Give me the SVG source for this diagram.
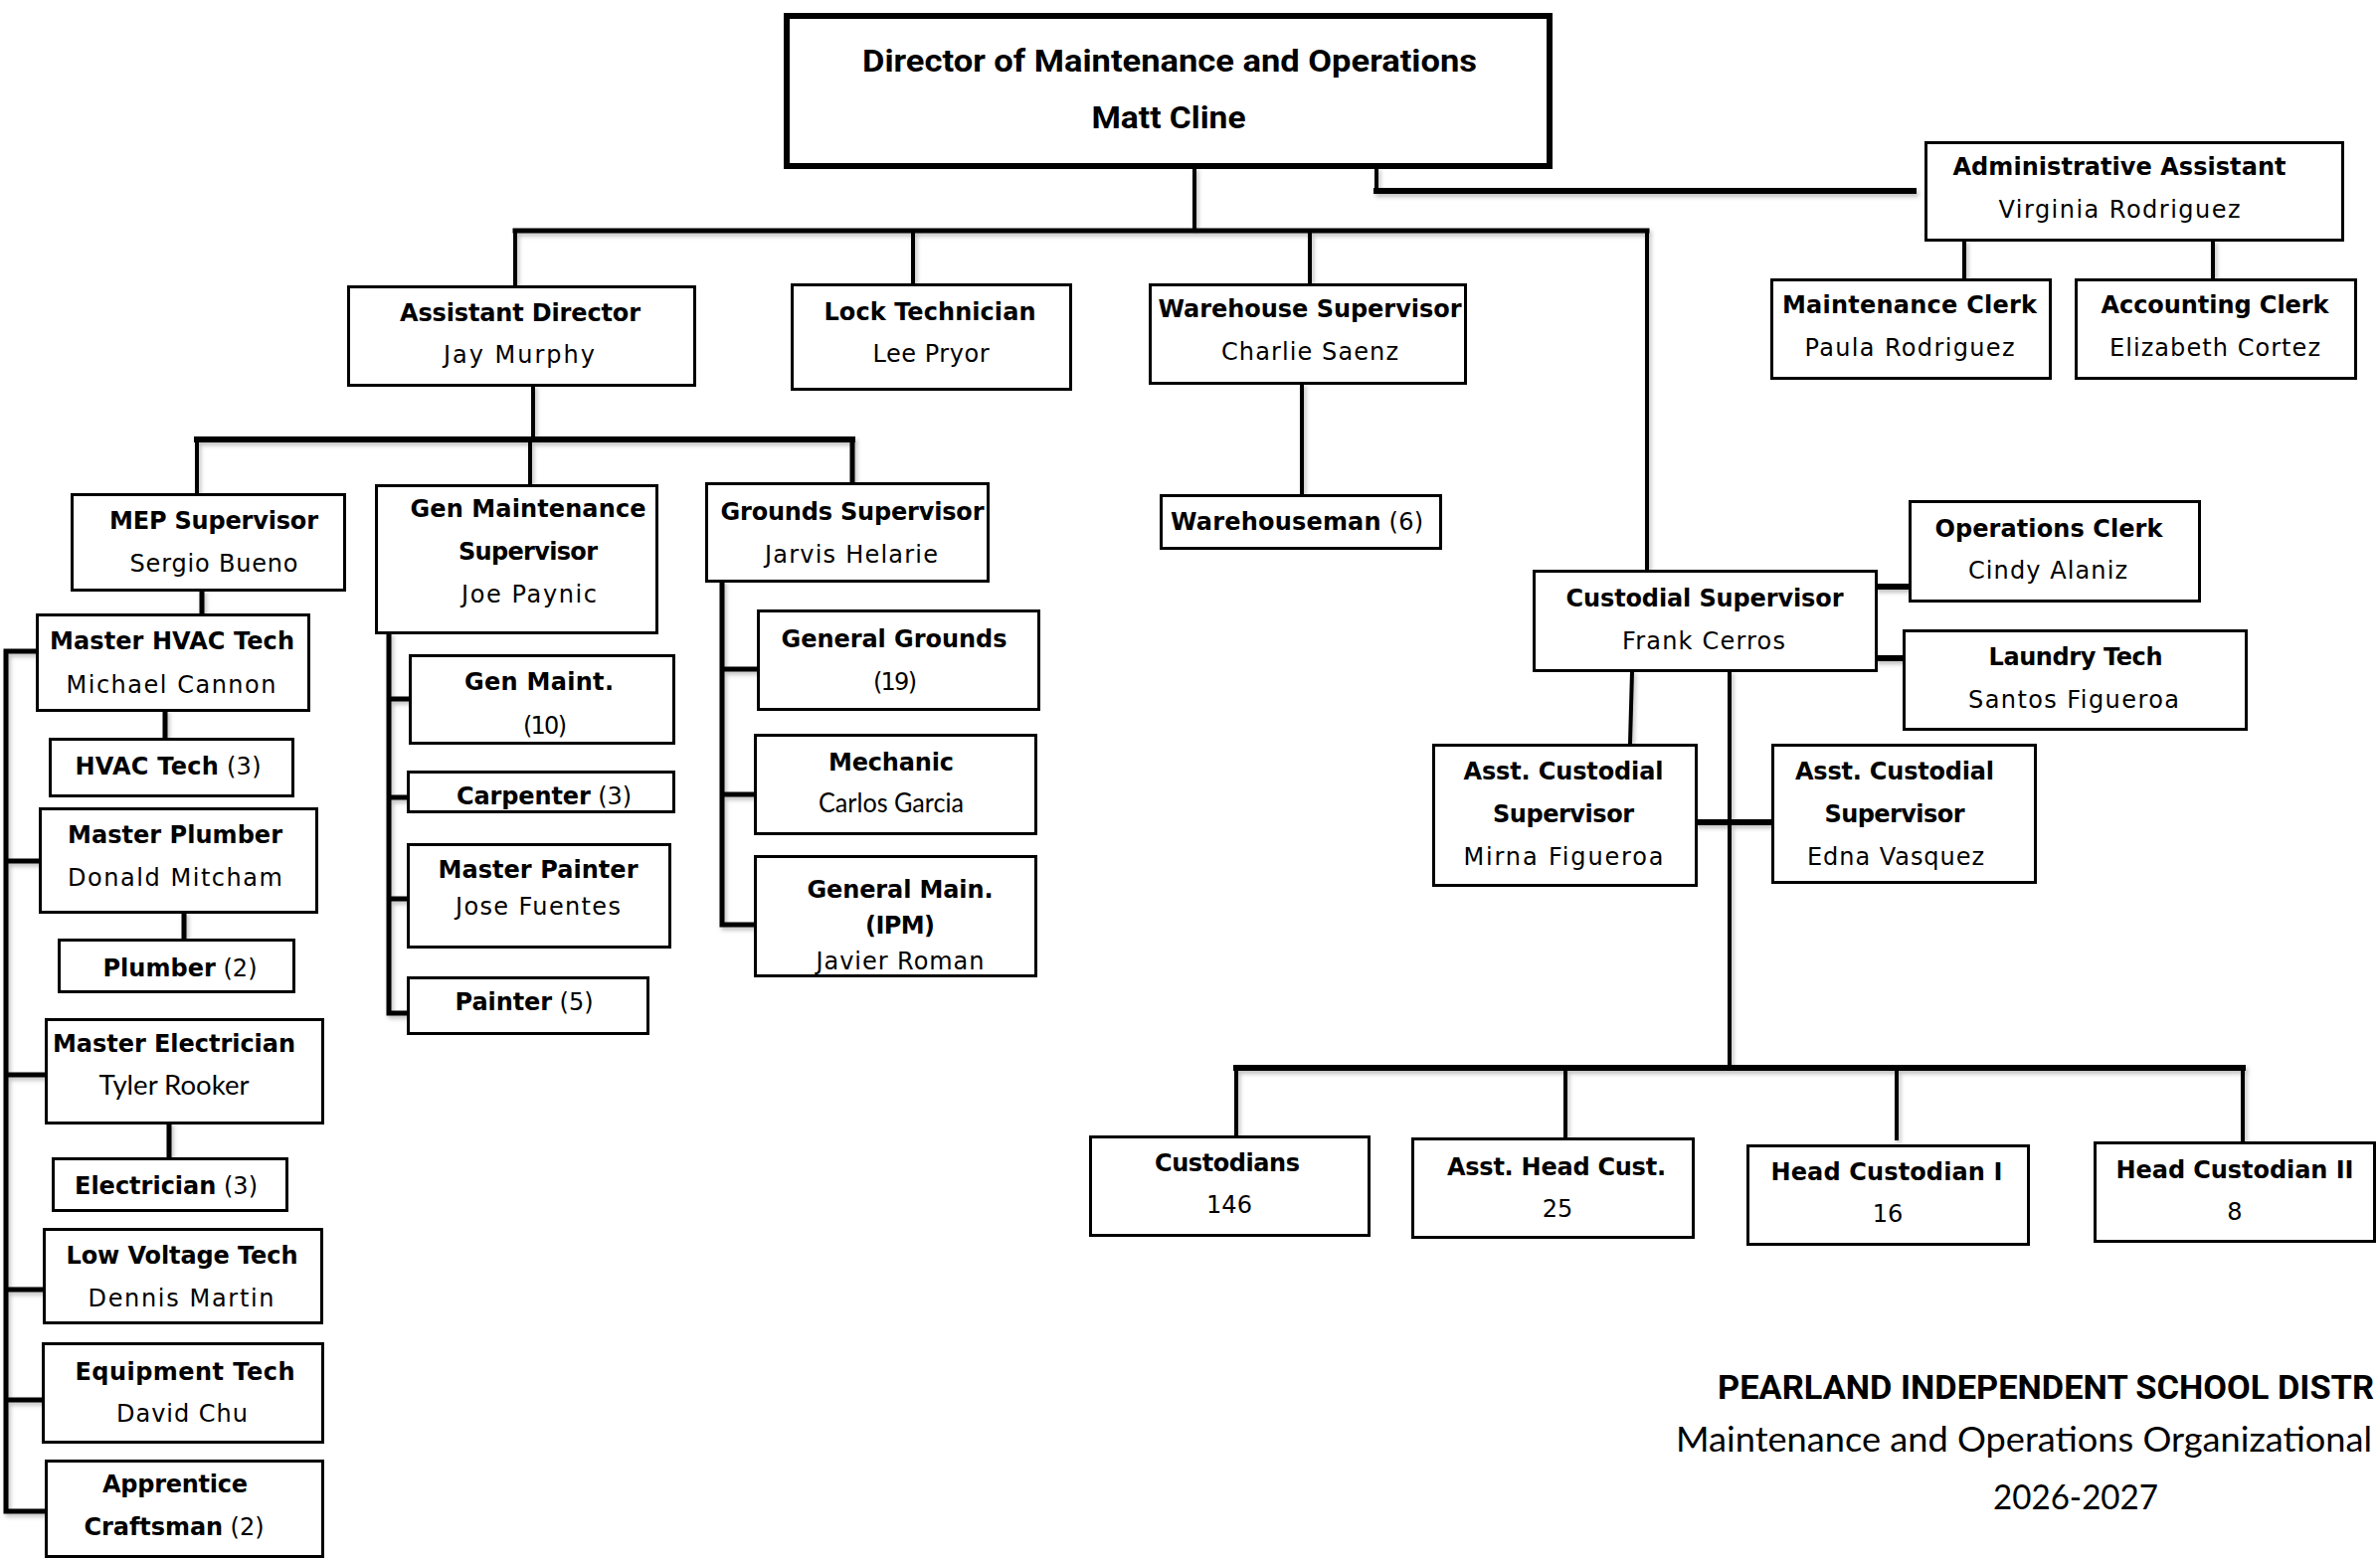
<svg xmlns="http://www.w3.org/2000/svg" width="2393" height="1567" viewBox="0 0 2393 1567">
<defs>
<filter id="sh" x="-5%" y="-5%" width="110%" height="110%">
<feDropShadow dx="2" dy="3" stdDeviation="2" flood-color="#000" flood-opacity="0.25"/>
</filter>
<style>
.box{fill:#fff;stroke:#000;stroke-width:3}
.dir{fill:#fff;stroke:#000;stroke-width:6}
.t{font-family:"DejaVu Sans",Verdana,sans-serif;font-size:24px;text-anchor:middle;fill:#000}
.b{font-weight:bold}
.c{font-family:Lato,"Open Sans",sans-serif}
.r{font-family:Roboto,"Liberation Sans",sans-serif;font-weight:bold}
.ln{stroke:#000;fill:none;stroke-linecap:square}
.w4{stroke-width:4}
.w5{stroke-width:5}
.w6{stroke-width:6}
</style>
</defs>
<rect width="2393" height="1567" fill="#fff"/>

<g id="connectors" filter="url(#sh)">
<path class="ln w4" d="M1201 170V232"/>
<path class="ln w5" d="M518 232H1656"/>
<path class="ln w4" d="M518 232V287M918 232V285M1317 232V285M1656 232V573"/>
<path class="ln w4" d="M1384 170V192"/>
<path class="ln w6" d="M1384 192H1924"/>
<path class="ln w4" d="M1975 243V280M2225 243V280"/>
<path class="ln w4" d="M1309 387V497"/>
<path class="ln w4" d="M536 389V442"/>
<path class="ln w6" d="M198 442H857"/>
<path class="ln w4" d="M198 442V496M533 442V487"/>
<path class="ln w5" d="M857 442V485"/>
<path class="ln w5" d="M203 595V617M166 716V742M185 919V944M170 1131V1164"/>
<path class="ln w5" d="M6 655V1520M6 655H36M6 866H39M6 1081H45M6 1297H43M6 1408H42M6 1520H45"/>
<path class="ln w5" d="M391 638V1019M391 703H411M391 802H409M391 904H409M391 1019H409"/>
<path class="ln w5" d="M726 586V930M726 673H761M726 799H758M726 930H758"/>
<path class="ln w6" d="M1888 590H1919M1888 662H1913"/>
<path class="ln w4" d="M1641 676L1639 748"/>
<path class="ln w4" d="M1739 676V1074"/>
<path class="ln w6" d="M1707 827H1781"/>
<path class="ln w6" d="M1243 1074H2255"/>
<path class="ln w4" d="M1243 1074V1144M1574 1074V1144M1907 1074V1145M2255 1074V1147"/>
</g>

<g id="director">
<rect class="dir" x="791" y="16" width="767" height="151"/>
<text class="t r" x="1176" y="72" style="font-size:32px" textLength="618" lengthAdjust="spacingAndGlyphs">Director of Maintenance and Operations</text>
<text class="t r" x="1175" y="129" style="font-size:32px" textLength="155" lengthAdjust="spacingAndGlyphs">Matt Cline</text>
</g>

<g id="admin-assistant">
<rect class="box" x="1936.5" y="143.5" width="419" height="98"/>
<text class="t b" x="2131" y="176" textLength="335" lengthAdjust="spacing">Administrative Assistant</text>
<text class="t" x="2131" y="219" textLength="243" lengthAdjust="spacing">Virginia Rodriguez</text>
</g>

<g id="maintenance-clerk">
<rect class="box" x="1781.5" y="281.5" width="280" height="99"/>
<text class="t b" x="1920" y="315" textLength="256" lengthAdjust="spacing">Maintenance Clerk</text>
<text class="t" x="1920" y="358" textLength="211" lengthAdjust="spacing">Paula Rodriguez</text>
</g>

<g id="accounting-clerk">
<rect class="box" x="2087.5" y="281.5" width="281" height="99"/>
<text class="t b" x="2227" y="315" textLength="229" lengthAdjust="spacing">Accounting Clerk</text>
<text class="t" x="2227" y="358" textLength="212" lengthAdjust="spacing">Elizabeth Cortez</text>
</g>

<g id="assistant-director">
<rect class="box" x="350.5" y="288.5" width="348" height="99"/>
<text class="t b" x="523" y="323" textLength="242" lengthAdjust="spacing">Assistant Director</text>
<text class="t" x="522" y="365" textLength="152" lengthAdjust="spacing">Jay Murphy</text>
</g>

<g id="lock-technician">
<rect class="box" x="796.5" y="286.5" width="280" height="105"/>
<text class="t b" x="935" y="322" textLength="213" lengthAdjust="spacing">Lock Technician</text>
<text class="t" x="936" y="364" textLength="117" lengthAdjust="spacing">Lee Pryor</text>
</g>

<g id="warehouse-supervisor">
<rect class="box" x="1156.5" y="286.5" width="317" height="99"/>
<text class="t b" x="1317" y="319" textLength="305" lengthAdjust="spacing">Warehouse Supervisor</text>
<text class="t" x="1317" y="362" textLength="178" lengthAdjust="spacing">Charlie Saenz</text>
</g>

<g id="warehouseman">
<rect class="box" x="1167.5" y="498.5" width="281" height="53"/>
<text class="t" x="1304" y="533" textLength="254" lengthAdjust="spacing"><tspan class="b">Warehouseman</tspan> (6)</text>
</g>

<g id="mep-supervisor">
<rect class="box" x="72.5" y="497.5" width="274" height="96"/>
<text class="t b" x="215" y="532" textLength="210" lengthAdjust="spacing">MEP Supervisor</text>
<text class="t" x="215" y="575" textLength="169" lengthAdjust="spacing">Sergio Bueno</text>
</g>

<g id="gen-maintenance-supervisor">
<rect class="box" x="378.5" y="488.5" width="282" height="148"/>
<text class="t b" x="531" y="520" textLength="237" lengthAdjust="spacing">Gen Maintenance</text>
<text class="t b" x="531" y="563" textLength="140" lengthAdjust="spacing">Supervisor</text>
<text class="t" x="532" y="606" textLength="136" lengthAdjust="spacing">Joe Paynic</text>
</g>

<g id="grounds-supervisor">
<rect class="box" x="710.5" y="486.5" width="283" height="98"/>
<text class="t b" x="857" y="523" textLength="265" lengthAdjust="spacing">Grounds Supervisor</text>
<text class="t" x="856" y="566" textLength="174" lengthAdjust="spacing">Jarvis Helarie</text>
</g>

<g id="master-hvac-tech">
<rect class="box" x="37.5" y="618.5" width="273" height="96"/>
<text class="t b" x="173" y="653" textLength="246" lengthAdjust="spacing">Master HVAC Tech</text>
<text class="t" x="172" y="697" textLength="211" lengthAdjust="spacing">Michael Cannon</text>
</g>

<g id="hvac-tech">
<rect class="box" x="50.5" y="743.5" width="244" height="57"/>
<text class="t" x="169" y="779" textLength="187" lengthAdjust="spacing"><tspan class="b">HVAC Tech</tspan> (3)</text>
</g>

<g id="master-plumber">
<rect class="box" x="40.5" y="813.5" width="278" height="104"/>
<text class="t b" x="176" y="848" textLength="216" lengthAdjust="spacing">Master Plumber</text>
<text class="t" x="176" y="891" textLength="216" lengthAdjust="spacing">Donald Mitcham</text>
</g>

<g id="plumber">
<rect class="box" x="59.5" y="945.5" width="236" height="52"/>
<text class="t" x="181" y="982" textLength="155" lengthAdjust="spacing"><tspan class="b">Plumber</tspan> (2)</text>
</g>

<g id="master-electrician">
<rect class="box" x="46.5" y="1025.5" width="278" height="104"/>
<text class="t b" x="175" y="1058" textLength="244" lengthAdjust="spacing">Master Electrician</text>
<text class="t c" x="175" y="1101" style="font-size:27px" textLength="151" lengthAdjust="spacingAndGlyphs">Tyler Rooker</text>
</g>

<g id="electrician">
<rect class="box" x="53.5" y="1165.5" width="235" height="52"/>
<text class="t" x="167" y="1201" textLength="184" lengthAdjust="spacing"><tspan class="b">Electrician</tspan> (3)</text>
</g>

<g id="low-voltage-tech">
<rect class="box" x="44.5" y="1236.5" width="279" height="94"/>
<text class="t b" x="183" y="1271" textLength="233" lengthAdjust="spacing">Low Voltage Tech</text>
<text class="t" x="182" y="1314" textLength="187" lengthAdjust="spacing">Dennis Martin</text>
</g>

<g id="equipment-tech">
<rect class="box" x="43.5" y="1351.5" width="281" height="99"/>
<text class="t b" x="186" y="1388" textLength="221" lengthAdjust="spacing">Equipment  Tech</text>
<text class="t" x="183" y="1430" textLength="132" lengthAdjust="spacing">David Chu</text>
</g>

<g id="apprentice-craftsman">
<rect class="box" x="46.5" y="1469.5" width="278" height="96"/>
<text class="t b" x="176" y="1501" textLength="146" lengthAdjust="spacing">Apprentice</text>
<text class="t" x="175" y="1544" textLength="181" lengthAdjust="spacing"><tspan class="b">Craftsman</tspan> (2)</text>
</g>

<g id="gen-maint">
<rect class="box" x="412.5" y="659.5" width="265" height="88"/>
<text class="t b" x="542" y="694" textLength="150" lengthAdjust="spacing">Gen Maint.</text>
<text class="t" x="548" y="738" textLength="44" lengthAdjust="spacing">(10)</text>
</g>

<g id="carpenter">
<rect class="box" x="410.5" y="776.5" width="267" height="40"/>
<text class="t" x="547" y="809" textLength="176" lengthAdjust="spacing"><tspan class="b">Carpenter</tspan> (3)</text>
</g>

<g id="master-painter">
<rect class="box" x="410.5" y="849.5" width="263" height="103"/>
<text class="t b" x="541" y="883" textLength="201" lengthAdjust="spacing">Master Painter</text>
<text class="t" x="541" y="920" textLength="166" lengthAdjust="spacing">Jose Fuentes</text>
</g>

<g id="painter">
<rect class="box" x="410.5" y="983.5" width="241" height="56"/>
<text class="t" x="527" y="1016" textLength="139" lengthAdjust="spacing"><tspan class="b">Painter</tspan> (5)</text>
</g>

<g id="general-grounds">
<rect class="box" x="762.5" y="614.5" width="282" height="99"/>
<text class="t b" x="899" y="651" textLength="227" lengthAdjust="spacing">General Grounds</text>
<text class="t" x="900" y="694" textLength="44" lengthAdjust="spacing">(19)</text>
</g>

<g id="mechanic">
<rect class="box" x="759.5" y="739.5" width="282" height="99"/>
<text class="t b" x="896" y="775" textLength="126" lengthAdjust="spacing">Mechanic</text>
<text class="t c" x="896" y="817" style="font-size:27px" textLength="146" lengthAdjust="spacingAndGlyphs">Carlos Garcia</text>
</g>

<g id="general-main-ipm">
<rect class="box" x="759.5" y="861.5" width="282" height="120"/>
<text class="t b" x="905" y="903" textLength="187" lengthAdjust="spacing">General Main.</text>
<text class="t b" x="905" y="939" textLength="70" lengthAdjust="spacing">(IPM)</text>
<text class="t" x="905" y="975" textLength="169" lengthAdjust="spacing">Javier Roman</text>
</g>

<g id="custodial-supervisor">
<rect class="box" x="1542.5" y="574.5" width="344" height="100"/>
<text class="t b" x="1714" y="610" textLength="279" lengthAdjust="spacing">Custodial Supervisor</text>
<text class="t" x="1713" y="653" textLength="164" lengthAdjust="spacing">Frank Cerros</text>
</g>

<g id="operations-clerk">
<rect class="box" x="1920.5" y="504.5" width="291" height="100"/>
<text class="t b" x="2060" y="540" textLength="229" lengthAdjust="spacing">Operations Clerk</text>
<text class="t" x="2059" y="582" textLength="160" lengthAdjust="spacing">Cindy  Alaniz</text>
</g>

<g id="laundry-tech">
<rect class="box" x="1914.5" y="634.5" width="344" height="99"/>
<text class="t b" x="2087" y="669" textLength="175" lengthAdjust="spacing">Laundry Tech</text>
<text class="t" x="2085" y="712" textLength="212" lengthAdjust="spacing">Santos Figueroa</text>
</g>

<g id="asst-custodial-supervisor-1">
<rect class="box" x="1441.5" y="749.5" width="264" height="141"/>
<text class="t b" x="1572" y="784" textLength="201" lengthAdjust="spacing">Asst.  Custodial</text>
<text class="t b" x="1572" y="827" textLength="142" lengthAdjust="spacing">Supervisor</text>
<text class="t" x="1572" y="870" textLength="201" lengthAdjust="spacing">Mirna Figueroa</text>
</g>

<g id="asst-custodial-supervisor-2">
<rect class="box" x="1782.5" y="749.5" width="264" height="138"/>
<text class="t b" x="1905" y="784" textLength="200" lengthAdjust="spacing">Asst.  Custodial</text>
<text class="t b" x="1905" y="827" textLength="141" lengthAdjust="spacing">Supervisor</text>
<text class="t" x="1906" y="870" textLength="178" lengthAdjust="spacing">Edna Vasquez</text>
</g>

<g id="custodians">
<rect class="box" x="1096.5" y="1143.5" width="280" height="99"/>
<text class="t b" x="1234" y="1178" textLength="146" lengthAdjust="spacing">Custodians</text>
<text class="t" x="1236" y="1220">146</text>
</g>

<g id="asst-head-cust">
<rect class="box" x="1420.5" y="1145.5" width="282" height="99"/>
<text class="t b" x="1565" y="1182" textLength="220" lengthAdjust="spacing">Asst. Head Cust.</text>
<text class="t" x="1566" y="1224">25</text>
</g>

<g id="head-custodian-1">
<rect class="box" x="1757.5" y="1152.5" width="282" height="99"/>
<text class="t b" x="1897" y="1187" textLength="233" lengthAdjust="spacing">Head  Custodian  I</text>
<text class="t" x="1898" y="1229">16</text>
</g>

<g id="head-custodian-2">
<rect class="box" x="2106.5" y="1149.5" width="281" height="99"/>
<text class="t b" x="2247" y="1185" textLength="239" lengthAdjust="spacing">Head  Custodian  II</text>
<text class="t" x="2247" y="1227">8</text>
</g>

<g id="title">
<text class="r" x="1727" y="1407" font-size="34" textLength="660" lengthAdjust="spacingAndGlyphs">PEARLAND INDEPENDENT SCHOOL DISTR</text>
<text class="c" x="1685" y="1460" font-size="35" textLength="700" lengthAdjust="spacingAndGlyphs">Maintenance and Operations Organizational</text>
<text class="c" x="2004" y="1518" font-size="35" textLength="166" lengthAdjust="spacingAndGlyphs">2026-2027</text>
</g>
</svg>
